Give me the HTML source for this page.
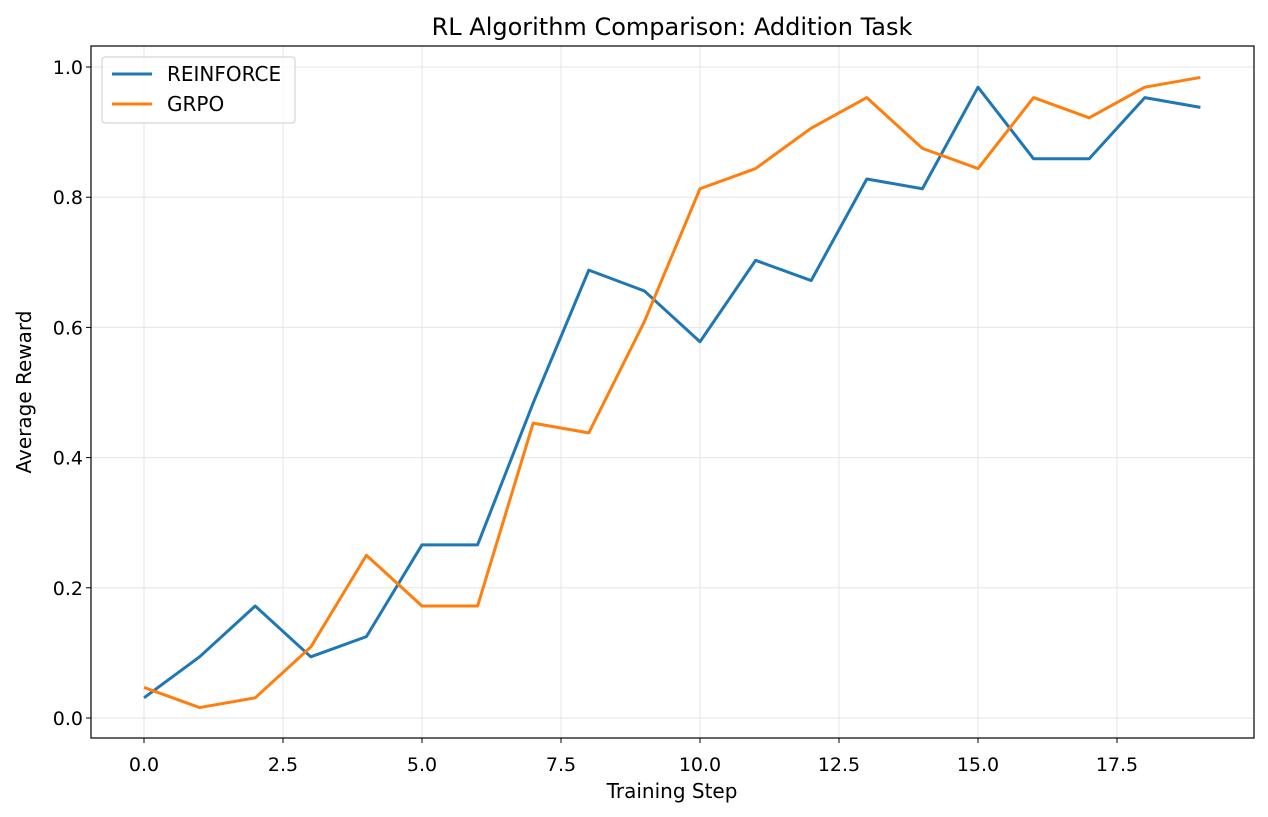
<!DOCTYPE html>
<html><head><meta charset="utf-8"><style>body{margin:0;background:#fff}svg{display:block;font-family:"DejaVu Sans","Liberation Sans",sans-serif}</style></head>
<body>
<svg id="chart" width="1268" height="817" xmlns="http://www.w3.org/2000/svg"></svg>
<script>
const steps=[0,1,2,3,4,5,6,7,8,9,10,11,12,13,14,15,16,17,18,19];
const reinforce=[0.031,0.094,0.172,0.094,0.125,0.266,0.266,0.484,0.688,0.656,0.578,0.703,0.672,0.828,0.813,0.969,0.859,0.859,0.953,0.938];
const grpo=[0.047,0.016,0.031,0.109,0.25,0.172,0.172,0.453,0.438,0.609,0.813,0.844,0.906,0.953,0.875,0.844,0.953,0.922,0.969,0.984];
const xTicks=[0,2.5,5,7.5,10,12.5,15,17.5];
const xTickLabels=["0.0","2.5","5.0","7.5","10.0","12.5","15.0","17.5"];
const yTicks=[0,0.2,0.4,0.6,0.8,1.0];
const yTickLabels=["0.0","0.2","0.4","0.6","0.8","1.0"];
const L=91,R=1254,T=46,B=738;
const x=v=>144+v*55.6;
const y=v=>718-v*651;
const svg=document.getElementById('chart');
const NS='http://www.w3.org/2000/svg';
function mk(tag,attrs,parent){const e=document.createElementNS(NS,tag);for(const k in attrs)e.setAttribute(k,attrs[k]);(parent||svg).appendChild(e);return e;}
xTicks.forEach((t,i)=>{
 const g=mk('line',{x1:x(t),x2:x(t),y1:T,y2:B,stroke:'#e5e5e5','stroke-width':1});
 
 
 mk('line',{x1:x(t),x2:x(t),y1:B,y2:B+5,stroke:'#000'});
 const tx=mk('text',{x:x(t),y:B+33,'text-anchor':'middle','font-size':19});
 tx.textContent=xTickLabels[i];
 
 
});
yTicks.forEach((t,i)=>{
 const g=mk('line',{x1:L,x2:R,y1:y(t),y2:y(t),stroke:'#e5e5e5','stroke-width':1});
 
 
 mk('line',{x1:L-5,x2:L,y1:y(t),y2:y(t),stroke:'#000'});
 const tx=mk('text',{x:L-8,y:y(t)+7,'text-anchor':'end','font-size':19});
 tx.textContent=yTickLabels[i];
 
 
});
function series(vals,color,name){
 const p=mk('polyline',{points:steps.map((s,i)=>x(s)+','+y(vals[i])).join(' '),fill:'none',stroke:color,'stroke-width':3,'stroke-linejoin':'round'});
 
 
}
series(reinforce,'#1f77b4','reinforce-line');
series(grpo,'#ff7f0e','grpo-line');
const fr=mk('rect',{x:L,y:T,width:R-L,height:B-T,fill:'none',stroke:'#000','stroke-width':1.2});


</script>
<svg style="position:absolute;left:0;top:0" width="1268" height="817" xmlns="http://www.w3.org/2000/svg" font-family="DejaVu Sans, Liberation Sans, sans-serif">
<text x="672" y="35" text-anchor="middle" font-size="24">RL Algorithm Comparison: Addition Task</text>
<text x="672" y="798" text-anchor="middle" font-size="20">Training Step</text>
<text transform="translate(31,392) rotate(-90)" text-anchor="middle" font-size="20">Average Reward</text>
<g>
<rect x="102" y="57" width="193" height="66" rx="3" fill="#fff" fill-opacity="0.8" stroke="#ccc"/>
<g><line x1="112" x2="152" y1="74" y2="74" stroke="#1f77b4" stroke-width="3"/><text x="167" y="81" font-size="20">REINFORCE</text></g>
<g><line x1="112" x2="152" y1="104" y2="104" stroke="#ff7f0e" stroke-width="3"/><text x="167" y="111" font-size="20">GRPO</text></g>
</g>
</svg>
</body></html>
